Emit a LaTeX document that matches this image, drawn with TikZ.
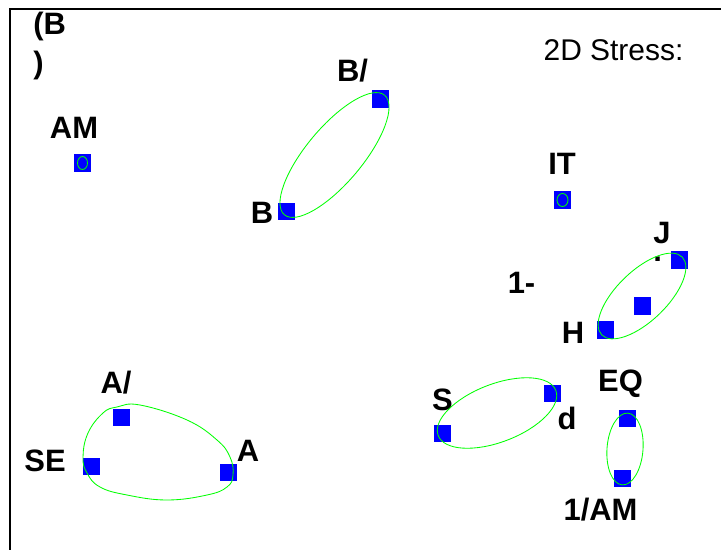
\documentclass[tikz,border=0pt]{standalone}
\usepackage{fontspec}
\setmainfont{Liberation Sans}
\begin{document}
\begin{tikzpicture}[x=0.025cm,y=-0.025cm,
		sq/.style={fill=blue, inner sep=0pt, minimum size=0.425cm},
		lbl/.style={font=\fontsize{22}{26}\selectfont\bfseries, inner sep=0pt},
		grp/.style={draw=green, line width=0.6pt}]
		\useasboundingbox (0,0) rectangle (721,550);
		\draw [line width=0.9pt] (10,550)--(10,9)--(721,9);
		\node [font=\fontsize{21.3}{25}\selectfont, inner sep=0pt] (stress) at (613.5,50.5) {2D Stress:};
		\node [lbl, align=left, anchor=north west] (l-bb) at (33,12) {(B\\[0.05cm])};
		% samples
		\node [sq] (am) at (82.5,163) {};
		\node [sq] (bs) at (380.5,99) {};
		\node [sq] (b) at (286.5,211.5) {};
		\node [sq] (it) at (562.5,200) {};
		\node [sq] (j) at (679,260) {};
		\node [sq] (hj) at (642,306) {};
		\node [sq] (h) at (605,330) {};
		\node [sq] (as) at (121.5,417) {};
		\node [sq] (se) at (91.5,466) {};
		\node [sq] (a) at (228.5,472) {};
		\node [sq] (s) at (442.5,433) {};
		\node [sq] (d) at (552,393) {};
		\node [sq] (eq) at (627.5,418) {};
		\node [sq] (am1) at (622.5,478) {};
		% labels
		\node [lbl] (l-am) at (74,127.5) {AM};
		\node [lbl] (l-bs) at (352.5,70.5) {B/};
		\node [lbl] (l-b) at (262,212.5) {B};
		\node [lbl] (l-it) at (562,164) {IT};
		\node [lbl, align=left, anchor=north west] (l-j) at (653,222) {J\\[-0.47cm].};
		\node [lbl] (l-one) at (521.5,282.5) {1-};
		\node [lbl] (l-h) at (573,332.5) {H};
		\node [lbl] (l-as) at (116,383) {A/};
		\node [lbl] (l-se) at (45,461) {SE};
		\node [lbl] (l-a) at (248,451) {A};
		\node [lbl] (l-s) at (442.5,399.5) {S};
		\node [lbl] (l-d) at (567,418) {d};
		\node [lbl] (l-eq) at (620.5,384) {EQ};
		\node [lbl] (l-am1) at (600.5,509.5) {1/AM};
		% groups
		\draw [grp] (am) ellipse (5 and 6.5);
		\draw [grp] (it) ellipse (5.5 and 6.5);
		\draw [grp, rotate around={50:(334.5,155)}] (334.5,155) ellipse (78 and 28);
		\draw [grp, rotate around={44:(642,296)}] (642,296) ellipse (56 and 25);
		\draw [grp, rotate around={21:(497,413)}] (497,413) ellipse (63 and 29);
		\draw [grp, rotate around={-4.5:(625,449)}] (625,449) ellipse (18 and 36);
		\draw [grp] plot [smooth cycle, tension=0.7] coordinates {(140,405) (187,420) (217,440) (230,457) (233,475) (227,487) (207,495) (167,500) (127,495) (100,487) (87,473) (83,457) (88,433) (103,413) (117,407)};
	\end{tikzpicture}
\end{document}
